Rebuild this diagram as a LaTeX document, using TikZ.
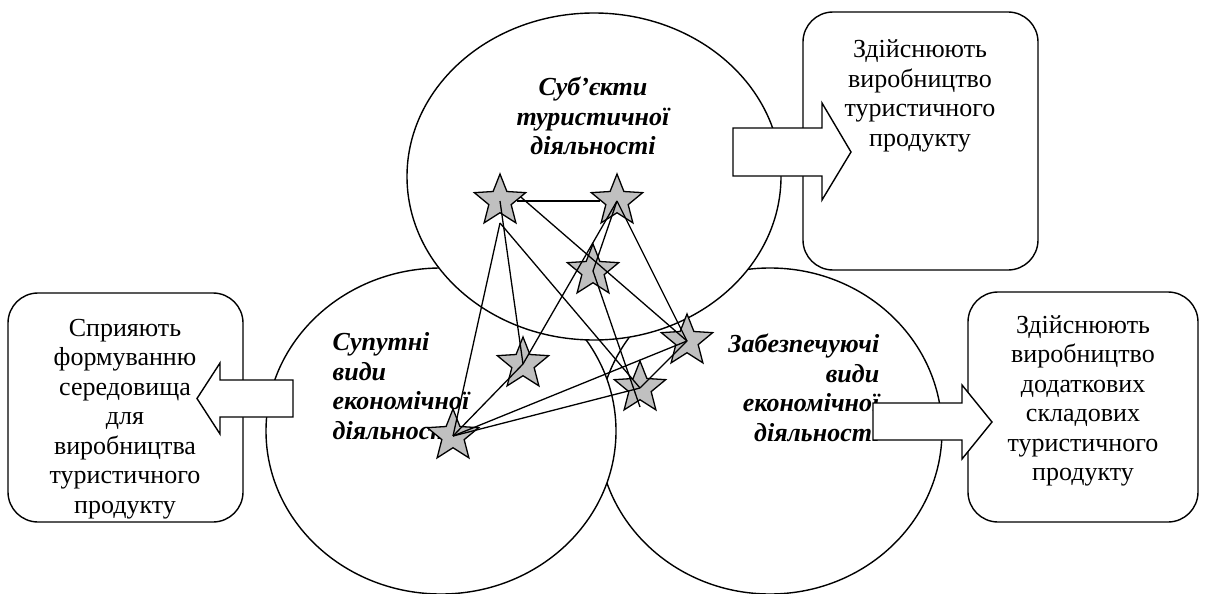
\documentclass[tikz,border=0pt]{standalone}
\usepackage{fontspec}
\setmainfont{Liberation Serif}
\usetikzlibrary{shapes.geometric,calc}
\definecolor{stargray}{HTML}{C0C0C0}
\begin{document}
\begin{tikzpicture}[x=1pt,y=-1pt,line width=1.4pt,
  circ/.style={ellipse,draw,fill=white,inner sep=0pt},
  rbox/.style={rectangle,draw,fill=white,rounded corners=30pt,inner sep=0pt},
  btext/.style={font=\fontsize{26}{29.5}\selectfont,align=center,inner sep=0pt},
  ctext/.style={font=\fontsize{26}{29.5}\selectfont\bfseries\itshape,inner sep=0pt},
  sstar/.style={star,star points=5,star point ratio=2.3,minimum size=54pt,inner sep=0pt,draw,fill=stargray,line width=1.3pt},
  link/.style={line width=1.3pt},
  barrow/.style={draw,fill=white,line width=1.4pt}]
\useasboundingbox (0,0) rectangle (1208,594);
% circles
\node[circ,minimum width=344pt,minimum height=326pt] (rc) at (770,431) {};
\node[circ,minimum width=350pt,minimum height=326pt] (lc) at (441,431) {};
\node[circ,minimum width=374pt,minimum height=327pt] (tc) at (594,176.5) {};
% boxes
\node[rbox,minimum width=235pt,minimum height=258pt] (b1) at (920.5,141) {};
\node[rbox,minimum width=235pt,minimum height=229pt] (b2) at (125.5,407.5) {};
\node[rbox,minimum width=230pt,minimum height=230pt] (b3) at (1083,407) {};
% texts
\node[ctext,align=center] (t1) at (593,116) {Суб’єкти\\туристичної\\діяльності};
\node[ctext,align=left,anchor=west] (t2) at (332,386) {Супутні\\види\\економічної\\діяльності};
\node[ctext,align=right,anchor=east] (t3) at (880,388) {Забезпечуючі\\види\\економічної\\діяльності};
\node[btext] (t4) at (920,96) {Здійснюють\\виробництво\\туристичного\\продукту};
\node[btext] (t5) at (125,419) {Сприяють\\формуванню\\середовища\\для\\виробництва\\туристичного\\продукту};
\node[btext] (t6) at (1083,401) {Здійснюють\\виробництво\\додаткових\\складових\\туристичного\\продукту};
% stars
\node[sstar] (s1) at (500,201) {};
\node[sstar] (s2) at (617,201) {};
\node[sstar] (s3) at (593,271) {};
\node[sstar] (s4) at (523,364) {};
\node[sstar] (s5) at (687,341) {};
\node[sstar] (s6) at (640,388) {};
\node[sstar] (s7) at (453,436) {};
\coordinate (s1b) at ($(s1.center)+(0,22)$);
\coordinate (s6b) at ($(s6.center)+(0,19)$);
% links
\draw[link] (s1) -- (s2);
\draw[link] (s1.10) -- (s5.center);
\draw[link] (s1.center) -- (s4.center);
\draw[link] (s1b) -- (s7.center);
\draw[link] (s1b) -- (s6.center);
\draw[link] (s2.center) -- (s4.center);
\draw[link] (s2.center) -- (s3.center);
\draw[link] (s2.center) -- (s5.center);
\draw[link] (s3.center) -- (s6b);
\draw[link] (s7.center) -- (s4.center);
\draw[link] (s7.center) -- (s5.center);
\draw[link] (s7.center) -- (s6.center);
\draw[link] (s5.center) -- (s6.center);
% block arrows
\draw[barrow] (733,128) -- (822,128) -- (822,103) -- (851,152) -- (822,200) -- (822,176) -- (733,176) -- cycle;
\draw[barrow] (293,380) -- (220,380) -- (220,363) -- (197,398.5) -- (220,434) -- (220,417) -- (293,417) -- cycle;
\draw[barrow] (873,403) -- (962,403) -- (962,385) -- (992,422) -- (962,459) -- (962,440) -- (873,440) -- cycle;
\end{tikzpicture}
\end{document}
